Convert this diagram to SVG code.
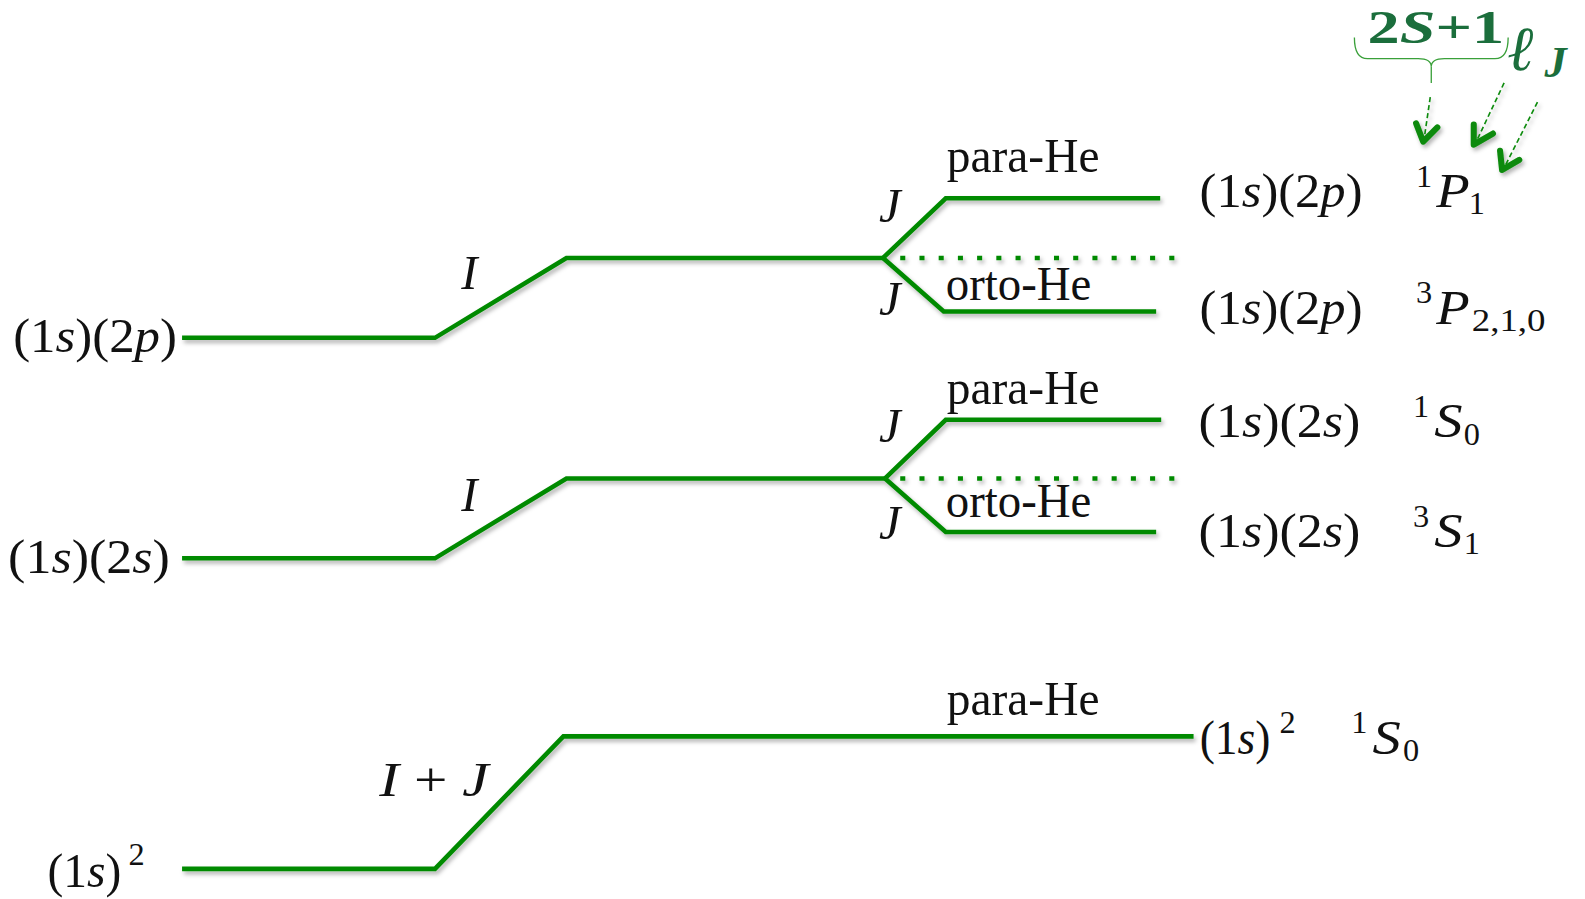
<svg xmlns="http://www.w3.org/2000/svg" width="1585" height="899" viewBox="0 0 1585 899">
<style>
.t{font-family:"Liberation Serif","DejaVu Serif",serif;font-size:48px;fill:#111}
.s{font-size:32px}
.i{font-style:italic}
.lv{fill:none;stroke:#008a00;stroke-width:4.5;stroke-linejoin:miter}
.dot{fill:none;stroke:#008a00;stroke-width:4.5;stroke-dasharray:5 14}
.ann{font-family:"Liberation Serif","DejaVu Serif",serif;font-weight:bold;fill:#1b6e3c}
.arr{fill:none;stroke:#0a8a0a;stroke-width:1.6;stroke-dasharray:5 3}
.hd{fill:none;stroke:#0a8a0a;stroke-width:6;stroke-linecap:round;stroke-linejoin:round}
</style>
<defs>
<filter id="sh" x="-5%" y="-20%" width="110%" height="160%">
<feDropShadow dx="2" dy="3" stdDeviation="2" flood-color="#000" flood-opacity="0.3"/>
</filter>
</defs>
<rect width="1585" height="899" fill="#fff"/>
<g transform="scale(1.0115)">
<g id="connectors" filter="url(#sh)">
<polyline class="lv" points="180,334 430,334 560,255 873,255"/>
<polyline class="lv" points="873,255 935,196 1147,196"/>
<polyline class="lv" points="873,255 933,308 1143,308"/>
<line class="dot" x1="890" y1="255" x2="1172" y2="255"/>
<polyline class="lv" points="180,552 430,552 560,473 875,473"/>
<polyline class="lv" points="875,473 935,415 1148,415"/>
<polyline class="lv" points="875,473 935,526 1143,526"/>
<line class="dot" x1="890" y1="473" x2="1172" y2="473"/>
<polyline class="lv" points="180,859 430,859 557,728 1180,728"/>
</g>
<g id="left-labels">
<text class="t" x="13" y="348" textLength="162" lengthAdjust="spacingAndGlyphs">(1<tspan class="i">s</tspan>)(2<tspan class="i">p</tspan>)</text>
<text class="t" x="8" y="566" textLength="160" lengthAdjust="spacingAndGlyphs">(1<tspan class="i">s</tspan>)(2<tspan class="i">s</tspan>)</text>
<text class="t" x="47" y="877" textLength="73" lengthAdjust="spacingAndGlyphs">(1<tspan class="i">s</tspan>)</text>
<text class="t s" x="127" y="855">2</text>
</g>
<g id="interaction-labels">
<text class="t i" x="456" y="286">I</text>
<text class="t i" x="456" y="505">I</text>
<text class="t" x="375" y="787" textLength="108" lengthAdjust="spacingAndGlyphs"><tspan class="i">I</tspan> + <tspan class="i">J</tspan></text>
<text class="t i" x="869" y="219">J</text>
<text class="t i" x="869" y="311">J</text>
<text class="t i" x="869" y="437">J</text>
<text class="t i" x="869" y="533">J</text>
</g>
<g id="he-labels">
<text class="t" x="936" y="170" textLength="151" lengthAdjust="spacingAndGlyphs">para-He</text>
<text class="t" x="935" y="297" textLength="144" lengthAdjust="spacingAndGlyphs">orto-He</text>
<text class="t" x="936" y="399" textLength="151" lengthAdjust="spacingAndGlyphs">para-He</text>
<text class="t" x="935" y="511" textLength="144" lengthAdjust="spacingAndGlyphs">orto-He</text>
<text class="t" x="936" y="707" textLength="151" lengthAdjust="spacingAndGlyphs">para-He</text>
</g>
<g id="right-labels">
<text class="t" x="1186" y="205" textLength="161" lengthAdjust="spacingAndGlyphs">(1<tspan class="i">s</tspan>)(2<tspan class="i">p</tspan>)</text>
<text class="t s" x="1400" y="185">1</text>
<text class="t i" x="1420" y="205" textLength="33" lengthAdjust="spacingAndGlyphs">P</text>
<text class="t s" x="1452" y="212">1</text>

<text class="t" x="1186" y="320" textLength="161" lengthAdjust="spacingAndGlyphs">(1<tspan class="i">s</tspan>)(2<tspan class="i">p</tspan>)</text>
<text class="t s" x="1400" y="300">3</text>
<text class="t i" x="1420" y="320" textLength="33" lengthAdjust="spacingAndGlyphs">P</text>
<text class="t s" x="1455" y="327" textLength="73" lengthAdjust="spacingAndGlyphs">2,1,0</text>

<text class="t" x="1185" y="432" textLength="160" lengthAdjust="spacingAndGlyphs">(1<tspan class="i">s</tspan>)(2<tspan class="i">s</tspan>)</text>
<text class="t s" x="1397" y="412">1</text>
<text class="t i" x="1418" y="432" textLength="28" lengthAdjust="spacingAndGlyphs">S</text>
<text class="t s" x="1447" y="440">0</text>

<text class="t" x="1185" y="541" textLength="160" lengthAdjust="spacingAndGlyphs">(1<tspan class="i">s</tspan>)(2<tspan class="i">s</tspan>)</text>
<text class="t s" x="1397" y="521">3</text>
<text class="t i" x="1418" y="541" textLength="28" lengthAdjust="spacingAndGlyphs">S</text>
<text class="t s" x="1447" y="548">1</text>

<text class="t" x="1186" y="745" textLength="70" lengthAdjust="spacingAndGlyphs">(1<tspan class="i">s</tspan>)</text>
<text class="t s" x="1265" y="725">2</text>
<text class="t s" x="1336" y="725">1</text>
<text class="t i" x="1357" y="745" textLength="28" lengthAdjust="spacingAndGlyphs">S</text>
<text class="t s" x="1387" y="752">0</text>
</g>
<g id="annotation">
<text class="ann" x="1352" y="43" font-size="46" textLength="135" lengthAdjust="spacingAndGlyphs">2<tspan font-style="italic">S</tspan>+1</text>
<text class="ann" x="1491" y="69" font-size="62" font-style="italic">ℓ</text>
<text class="ann" x="1527" y="76" font-size="44" font-style="italic">J</text>
<path d="M1339,37 Q1339,58 1352,58 L1402,58 Q1415,58 1415,66 Q1415,58 1428,58 L1478,58 Q1491,58 1491,37" fill="none" stroke="#3aa03a" stroke-width="1.3"/>
<line x1="1415" y1="66" x2="1415" y2="82" stroke="#3aa03a" stroke-width="1.3"/>
<g filter="url(#sh)">
<line class="arr" x1="1414" y1="96" x2="1408" y2="137"/>
<polyline class="hd" points="1400,122 1407,140 1421,126"/>
<line class="arr" x1="1487" y1="82" x2="1460" y2="139"/>
<polyline class="hd" points="1457,123 1457,143 1476,132"/>
<line class="arr" x1="1520" y1="101" x2="1488" y2="164"/>
<polyline class="hd" points="1483,149 1485,168 1502,158"/>
</g>
</g>
</g>
</svg>
